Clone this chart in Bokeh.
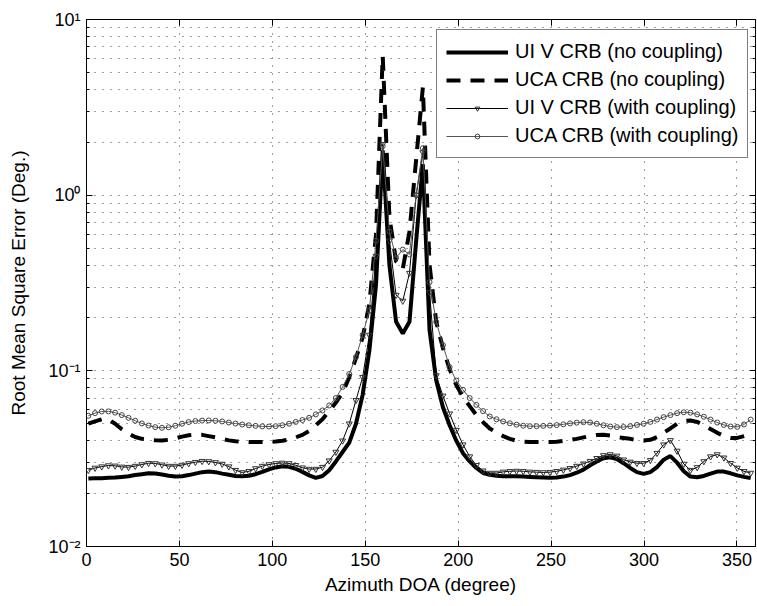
from bokeh.plotting import figure
from bokeh.models import (Range1d, FixedTicker, CustomJSTickFormatter, LinearAxis,
                          LogAxis, Legend, LegendItem, ColumnDataSource)
from bokeh.embed import file_html
from bokeh.resources import INLINE

FONT = "Liberation Sans"

# ---------------- data ----------------
azimuth = [1.0, 4.6, 8.2, 11.8, 15.4, 19.0, 22.6, 26.2, 29.8, 33.4,
           37.0, 40.6, 44.2, 47.8, 51.4, 55.0, 58.6, 62.2, 65.8, 69.4,
           73.0, 76.6, 80.2, 83.8, 87.4, 91.0, 94.6, 98.2, 101.8, 105.4,
           109.0, 112.6, 116.2, 119.8, 123.4, 127.0, 130.6, 134.2, 137.8, 141.4,
           145.0, 148.6, 152.2, 155.8, 159.4, 163.0, 166.6, 170.2, 173.8, 177.4,
           181.0, 184.6, 188.2, 191.8, 195.4, 199.0, 202.6, 206.2, 209.8, 213.4,
           217.0, 220.6, 224.2, 227.8, 231.4, 235.0, 238.6, 242.2, 245.8, 249.4,
           253.0, 256.6, 260.2, 263.8, 267.4, 271.0, 274.6, 278.2, 281.8, 285.4,
           289.0, 292.6, 296.2, 299.8, 303.4, 307.0, 310.6, 314.2, 317.8, 321.4,
           325.0, 328.6, 332.2, 335.8, 339.4, 343.0, 346.6, 350.2, 353.8, 357.4]

uiv_no_coupling = [0.0244, 0.0245, 0.0245, 0.0246, 0.0247, 0.0249, 0.0251, 0.0255, 0.0258, 0.0261,
                   0.0260, 0.0257, 0.0253, 0.0250, 0.0251, 0.0255, 0.0260, 0.0265, 0.0267, 0.0265,
                   0.0260, 0.0256, 0.0252, 0.0251, 0.0253, 0.0258, 0.0266, 0.0275, 0.0282, 0.0286,
                   0.0284, 0.0277, 0.0266, 0.0254, 0.0246, 0.0252, 0.0272, 0.0305, 0.0345, 0.0390,
                   0.050, 0.073, 0.13, 0.31, 1.8, 0.40, 0.19, 0.163, 0.19, 0.55,
                   1.5, 0.17, 0.088, 0.062, 0.049, 0.040, 0.034, 0.0305, 0.0280, 0.0262,
                   0.0256, 0.0253, 0.0251, 0.0251, 0.0251, 0.0250, 0.0249, 0.0248, 0.0247, 0.0246,
                   0.0247, 0.0250, 0.0255, 0.0263, 0.0274, 0.0290, 0.0305, 0.0318, 0.0322, 0.0315,
                   0.0298, 0.0280, 0.0265, 0.0259, 0.0265, 0.0283, 0.0312, 0.0327, 0.0300, 0.0268,
                   0.0250, 0.0248, 0.0252, 0.0260, 0.0267, 0.0267, 0.0261, 0.0254, 0.0249, 0.0245]

uca_no_coupling = [0.0500, 0.0515, 0.0530, 0.0530, 0.0500, 0.0465, 0.0440, 0.0420, 0.0410, 0.0405,
                   0.0402, 0.0401, 0.0405, 0.0413, 0.0422, 0.0430, 0.0434, 0.0432, 0.0425, 0.0418,
                   0.0410, 0.0402, 0.0397, 0.0394, 0.0393, 0.0393, 0.0393, 0.0394, 0.0396, 0.0400,
                   0.0407, 0.0418, 0.0432, 0.0455, 0.0490, 0.0530, 0.0590, 0.0660, 0.0750, 0.0920,
                   0.118, 0.155, 0.24, 0.60, 6.2, 0.75, 0.42, 0.38, 0.62, 1.6,
                   4.1, 0.40, 0.19, 0.135, 0.102, 0.083, 0.071, 0.063, 0.056, 0.051,
                   0.047, 0.0445, 0.0425, 0.0410, 0.0400, 0.0395, 0.0393, 0.0393, 0.0393, 0.0393,
                   0.0395, 0.0399, 0.0404, 0.0410, 0.0418, 0.0425, 0.0431, 0.0433, 0.0428, 0.0420,
                   0.0415, 0.0410, 0.0404, 0.0401, 0.0405, 0.0420, 0.0445, 0.0470, 0.0500, 0.0518,
                   0.0522, 0.0512, 0.0490, 0.0466, 0.0444, 0.0425, 0.0415, 0.0415, 0.0425, 0.0435]

uiv_with_coupling = [0.0272, 0.0280, 0.0285, 0.0289, 0.0288, 0.0284, 0.0283, 0.0287, 0.0293, 0.0298,
                     0.0297, 0.0292, 0.0287, 0.0287, 0.0291, 0.0297, 0.0302, 0.0306, 0.0305, 0.0301,
                     0.0295, 0.0285, 0.0272, 0.0264, 0.0268, 0.0278, 0.0287, 0.0293, 0.0297, 0.0299,
                     0.0297, 0.0290, 0.0281, 0.0276, 0.0276, 0.0283, 0.0308, 0.0345, 0.0400, 0.0500,
                     0.068, 0.092, 0.16, 0.45, 1.95, 0.55, 0.27, 0.25, 0.36, 1.0,
                     1.75, 0.28, 0.094, 0.072, 0.057, 0.046, 0.038, 0.0325, 0.0290, 0.0270,
                     0.0262, 0.0262, 0.0266, 0.0268, 0.0269, 0.0268, 0.0266, 0.0265, 0.0264, 0.0265,
                     0.0268, 0.0273, 0.0279, 0.0287, 0.0296, 0.0306, 0.0318, 0.0330, 0.0334, 0.0328,
                     0.0312, 0.0303, 0.0298, 0.0298, 0.0310, 0.0340, 0.0380, 0.0402, 0.0350, 0.0295,
                     0.0272, 0.0282, 0.0305, 0.0325, 0.0334, 0.0320, 0.0298, 0.0280, 0.0268, 0.0262]

uca_with_coupling = [0.0555, 0.0575, 0.0587, 0.0588, 0.0578, 0.0560, 0.0540, 0.0520, 0.0502, 0.0488,
                     0.0478, 0.0474, 0.0477, 0.0487, 0.0500, 0.0511, 0.0518, 0.0521, 0.0522, 0.0520,
                     0.0515, 0.0508, 0.0501, 0.0495, 0.0490, 0.0486, 0.0483, 0.0482, 0.0484, 0.0490,
                     0.0500, 0.0512, 0.0525, 0.0540, 0.0565, 0.0595, 0.0635, 0.0700, 0.0810, 0.0960,
                     0.120, 0.160, 0.22, 0.55, 1.9, 0.62, 0.44, 0.49, 0.46, 1.0,
                     1.85, 0.32, 0.19, 0.14, 0.105, 0.088, 0.078, 0.070, 0.064, 0.059,
                     0.0550, 0.0530, 0.0515, 0.0503, 0.0494, 0.0487, 0.0484, 0.0484, 0.0486, 0.0488,
                     0.0491, 0.0496, 0.0502, 0.0507, 0.0510, 0.0508, 0.0500, 0.0490, 0.0482, 0.0478,
                     0.0479, 0.0484, 0.0492, 0.0500, 0.0512, 0.0528, 0.0545, 0.0560, 0.0574, 0.0581,
                     0.0578, 0.0565, 0.0548, 0.0528, 0.0508, 0.0492, 0.0482, 0.0480, 0.0495, 0.0528]

x_ticks = [0, 50, 100, 150, 200, 250, 300, 350]
y_ticks = [0.01, 0.1, 1, 10]
y_minor = [0.02, 0.03, 0.04, 0.05, 0.06, 0.07, 0.08, 0.09,
           0.2, 0.3, 0.4, 0.5, 0.6, 0.7, 0.8, 0.9,
           2, 3, 4, 5, 6, 7, 8, 9]

labels = ["UI V CRB (no coupling)", "UCA CRB (no coupling)",
          "UI V CRB (with coupling)", "UCA CRB (with coupling)"]

# ---------------- figure ----------------
src = ColumnDataSource(dict(az=azimuth, a=uiv_no_coupling, b=uca_no_coupling,
                            c=uiv_with_coupling, d=uca_with_coupling))

p = figure(width=757, height=606, y_axis_type="log",
           x_range=Range1d(0, 360), y_range=Range1d(0.01, 10),
           output_backend="svg", toolbar_location=None,
           min_border_left=86, min_border_right=2, min_border_top=19, min_border_bottom=60)
p.background_fill_color = "white"
p.border_fill_color = "white"
p.outline_line_color = "black"
p.outline_line_width = 1
p.outline_line_alpha = 1

xt = FixedTicker(ticks=x_ticks)
yt = FixedTicker(ticks=y_ticks, minor_ticks=y_minor)

sup_fmt = CustomJSTickFormatter(code="""
const sup = {'-':'\u207b','0':'\u2070','1':'\u00b9','2':'\u00b2','3':'\u00b3'};
const e = Math.round(Math.log10(tick));
return '10' + String(e).split('').map(c => sup[c]).join('');
""")

for ax in [p.xaxis[0], p.yaxis[0]]:
    ax.axis_line_color = "black"
    ax.major_tick_line_color = "black"
    ax.minor_tick_line_color = "black"
    ax.major_tick_in = 6
    ax.major_tick_out = 0
    ax.minor_tick_in = 3
    ax.minor_tick_out = 0
    ax.major_label_text_font = FONT
    ax.major_label_text_font_size = "18px"
    ax.major_label_text_color = "black"
    ax.axis_label_text_font = FONT
    ax.axis_label_text_font_size = "19px"
    ax.axis_label_text_font_style = "normal"
    ax.axis_label_text_color = "black"

p.xaxis[0].ticker = xt
p.yaxis[0].ticker = yt
p.yaxis[0].formatter = sup_fmt
p.xaxis[0].axis_label = "Azimuth DOA (degree)"
p.yaxis[0].axis_label = "Root Mean Square Error (Deg.)"
p.xaxis[0].major_label_standoff = 6
p.xaxis[0].axis_label_standoff = 5
p.yaxis[0].major_label_standoff = 6
p.yaxis[0].axis_label_standoff = 16

# box ticks on top and right (no labels)
top_ax = LinearAxis(ticker=xt, major_label_text_alpha=0, major_label_standoff=0,
                    major_label_text_font_size="8px",
                    major_tick_in=6, major_tick_out=0, minor_tick_in=0, minor_tick_out=0,
                    axis_line_color="black", major_tick_line_color="black")
top_ax.major_label_overrides = {t: " " for t in x_ticks}
right_ax = LogAxis(ticker=yt, major_label_text_alpha=0, major_label_standoff=0,
                   major_label_text_font_size="8px",
                   major_tick_in=6, major_tick_out=0, minor_tick_in=3, minor_tick_out=0,
                   axis_line_color="black", major_tick_line_color="black",
                   minor_tick_line_color="black")
right_ax.formatter = CustomJSTickFormatter(code="return ' ';")
p.add_layout(top_ax, "above")
p.add_layout(right_ax, "right")

p.xgrid.ticker = xt
p.ygrid.ticker = yt
for g in [p.xgrid[0], p.ygrid[0]]:
    g.grid_line_color = "black"
    g.grid_line_alpha = 0.75
    g.grid_line_dash = "1 7"
    g.grid_line_width = 1
p.ygrid[0].minor_grid_line_color = "black"
p.ygrid[0].minor_grid_line_alpha = 0.75
p.ygrid[0].minor_grid_line_dash = "1 7"

# ---------------- series ----------------
r1 = p.line("az", "a", source=src, line_color="black", line_width=4)
r2 = p.line("az", "b", source=src, line_color="black", line_width=4, line_dash="14 10")
r3l = p.line("az", "c", source=src, line_color="black", line_width=1)
r3m = p.scatter("az", "c", source=src, marker="inverted_triangle", size=6,
                line_color="#333333", line_width=1, fill_alpha=0)
r4l = p.line("az", "d", source=src, line_color="#555555", line_width=1)
r4m = p.scatter("az", "d", source=src, marker="circle", size=5,
                line_color="#444444", line_width=1, fill_alpha=0)

legend = Legend(items=[LegendItem(label=labels[0], renderers=[r1]),
                       LegendItem(label=labels[1], renderers=[r2]),
                       LegendItem(label=labels[2], renderers=[r3l, r3m]),
                       LegendItem(label=labels[3], renderers=[r4l, r4m])],
                location=(350, 388))
legend.label_text_font = FONT
legend.label_text_font_size = "20px"
legend.label_text_color = "black"
legend.border_line_color = "black"
legend.border_line_width = 1
legend.background_fill_color = "white"
legend.background_fill_alpha = 1
legend.glyph_width = 62
legend.glyph_height = 12
legend.label_height = 25
legend.spacing = 3
legend.padding = 9
legend.label_standoff = 7
legend.margin = 0
p.add_layout(legend)

open("out.html", "w").write(file_html(p, INLINE))
